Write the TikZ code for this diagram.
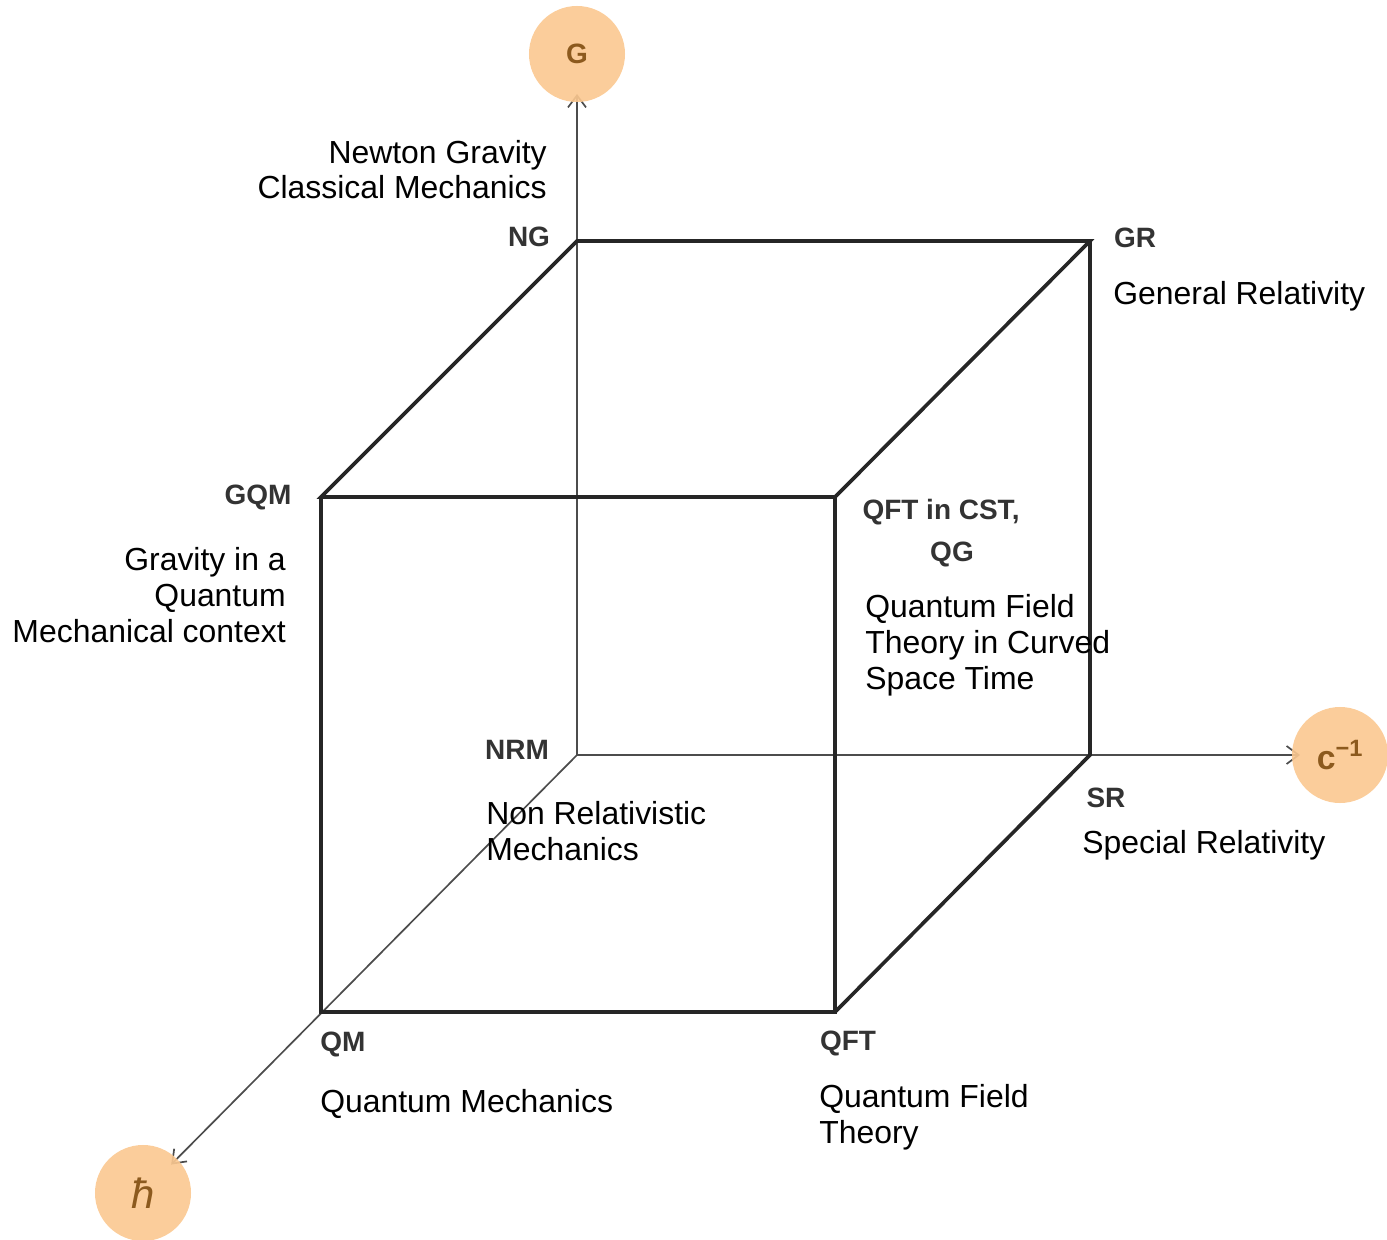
\documentclass[tikz,border=0pt]{standalone}
\usepackage{fontspec}
\setmainfont{Liberation Sans}
\usetikzlibrary{arrows.meta}
\definecolor{constfill}{HTML}{FBC890}
\definecolor{consttext}{HTML}{8C5A1E}
\pgfdeclarelayer{bg}
\pgfsetlayers{bg,main}
\begin{document}
\begin{tikzpicture}[x=0.025cm,y=-0.025cm,
  edge/.style={line width=2.6pt,draw=black!85},
  axis/.style={line width=1.2pt,draw=black!70,-{Straight Barb[length=3mm,width=4.5mm]},shorten >=1cm},
  const/.style={circle,fill=constfill,fill opacity=0.9,text opacity=1,minimum size=2.4cm,inner sep=0pt,text=consttext,font=\fontsize{19.9pt}{22pt}\selectfont\bfseries},
  corner/.style={inner sep=0pt,text=black!80,font=\fontsize{19.9pt}{29.9pt}\selectfont\bfseries},
  theory/.style={inner sep=0pt,font=\fontsize{22.7pt}{25.3pt}\selectfont}]
\useasboundingbox (0,0) rectangle (1387,1240);
% cube corners
\coordinate (NRM) at (577,755);
\coordinate (NG) at (577,241);
\coordinate (GR) at (1090,241);
\coordinate (SR) at (1090,755);
\coordinate (GQM) at (321,497);
\coordinate (CST) at (835,497);
\coordinate (QM) at (321,1012);
\coordinate (QFT) at (835,1012);
% constants
\node[const] (G) at (577,54) {G};
\node[const] (cinv) at (1340,755) {\fontsize{24pt}{24pt}\selectfont c\textsuperscript{−1}};
\node[const] (hbar) at (143,1193) {\fontsize{30pt}{30pt}\selectfont\mdseries\itshape ħ};
% axes
\begin{pgfonlayer}{bg}
\draw[axis] (NRM) -- (G.center);
\draw[axis] (NRM) -- (cinv.center);
\draw[axis] (NRM) -- (hbar.center);
\end{pgfonlayer}
% cube
\draw[edge] (GQM) -- (NG) -- (GR) -- (CST) -- cycle;
\draw[edge] (GQM) -- (QM) -- (QFT) -- (CST);
\draw[edge] (GR) -- (SR) -- (QFT);
% corner labels
\node[corner] (NGlbl) at (529,237) {NG};
\node[corner] (GRlbl) at (1135,238) {GR};
\node[corner] (GQMlbl) at (258,497) {GQM};
\node[corner,align=center] (CSTlbl) at (941,533) {QFT in CST,\\\hspace*{0.55cm}QG};
\node[corner] (NRMlbl) at (517,750) {NRM};
\node[corner] (SRlbl) at (1106,798) {SR};
\node[corner] (QMlbl) at (343,1044) {QM};
\node[corner] (QFTlbl) at (848,1043) {QFT};
% theories
\node[theory,align=right,anchor=base east] (NGtxt) at (547,199) {Newton Gravity\\Classical Mechanics};
\node[theory,align=left,anchor=base west] (GRtxt) at (1113,305) {General Relativity};
\node[theory,align=right,anchor=base east] (GQMtxt) at (286,642) {Gravity in a\\Quantum\\Mechanical context};
\node[theory,align=left,anchor=base west] (CSTtxt) at (865,689) {Quantum Field\\Theory in Curved\\Space Time};
\node[theory,align=left,anchor=base west] (NRMtxt) at (486,860) {Non Relativistic\\Mechanics};
\node[theory,align=left,anchor=base west] (SRtxt) at (1082,853) {Special Relativity};
\node[theory,align=left,anchor=base west] (QMtxt) at (320,1112) {Quantum Mechanics};
\node[theory,align=left,anchor=base west] (QFTtxt) at (819,1143) {Quantum Field\\Theory};
\end{tikzpicture}
\end{document}
